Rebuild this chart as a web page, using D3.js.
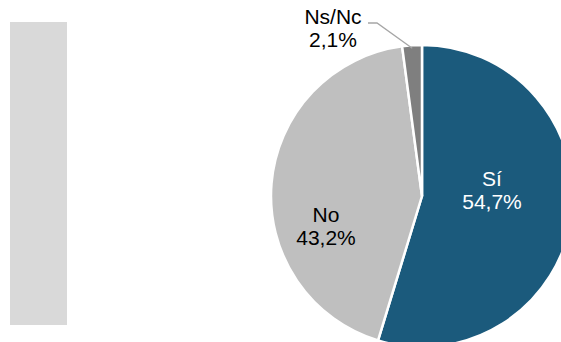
<!DOCTYPE html>
<html>
<head>
<meta charset="utf-8">
<script src="https://cdn.jsdelivr.net/npm/d3@7"></script>
<style>
  html, body { margin: 0; padding: 0; background: #fff; overflow: hidden; }
</style>
</head>
<body>
<div id="chart"></div>
<script>
const categories = ['Sí', 'No', 'Ns/Nc'];
const values = [54.7, 43.2, 2.1];
const labels = ['54,7%', '43,2%', '2,1%'];

const W = 561, H = 342;
const cx = 422, cy = 196, radius = 151;
const colors = { 'Sí': '#1b5a7c', 'No': '#bfbfbf', 'Ns/Nc': '#7f7f7f' };
const textColor = { 'Sí': '#ffffff', 'No': '#000000', 'Ns/Nc': '#000000' };
// label centres relative to the pie centre
const labelOffset = { 'Sí': [70, -6], 'No': [-96, 30], 'Ns/Nc': [-89, -168] };

const svg = d3.select('#chart').append('svg')
  .attr('width', W).attr('height', H);

// grey panel on the left
svg.append('rect').attr('x', 10).attr('y', 22).attr('width', 57).attr('height', 303)
  .attr('fill', '#d9d9d9');

const rows = categories.map((c, i) => ({ cat: c, value: values[i], label: labels[i] }));
const pie = d3.pie().sort(null).value(d => d.value);
const arc = d3.arc().innerRadius(0).outerRadius(radius);
const g = svg.append('g').attr('transform', `translate(${cx},${cy})`);

const arcs = pie(rows);
g.selectAll('path').data(arcs).join('path')
  .attr('d', arc)
  .attr('fill', d => colors[d.data.cat])
  .attr('stroke', '#fff').attr('stroke-width', 2.5)
  .attr('stroke-linejoin', 'round');

// leader line for the small slice
const small = arcs[2];
const mid = (small.startAngle + small.endAngle) / 2;
const edge = [Math.sin(mid) * (radius - 3), -Math.cos(mid) * (radius - 3)];
g.append('polyline')
  .attr('points', [[-54, -173], [-45, -173], edge].map(p => p.join(',')).join(' '))
  .attr('fill', 'none').attr('stroke', '#a6a6a6').attr('stroke-width', 1.3);

const txt = g.selectAll('text.lbl').data(arcs).join('text')
  .attr('class', 'lbl')
  .attr('text-anchor', 'middle')
  .attr('font-family', 'Liberation Sans, Arial, sans-serif')
  .attr('font-size', '21px')
  .attr('fill', d => textColor[d.data.cat])
  .attr('transform', d => `translate(${labelOffset[d.data.cat][0]},${labelOffset[d.data.cat][1]})`);
txt.append('tspan').attr('x', 0).attr('y', -4).text(d => d.data.cat);
txt.append('tspan').attr('x', 0).attr('y', 19).text(d => d.data.label);
</script>
</body>
</html>
